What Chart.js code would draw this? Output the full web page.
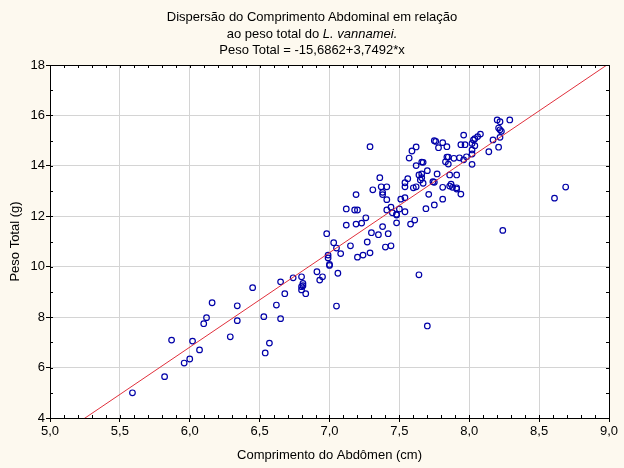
<!DOCTYPE html>
<html>
<head>
<meta charset="utf-8">
<title>Dispersão do Comprimento Abdominal</title>
<script src="https://cdn.jsdelivr.net/npm/chart.js"></script>
<style>
    body { margin: 0; background: #fdf9ef; font-family: "Liberation Sans", Arial, sans-serif; }
    .wrap { position: relative; width: 624px; height: 468px; }
    .title { position: absolute; top: 9px; left: 0; width: 624px; text-align: center; font-size: 13px; line-height: 16.5px; color: #000; }
    canvas { position: absolute; top: 0; left: 0; }
</style>
</head>
<body>
<div class="wrap">
    <canvas id="chart" width="624" height="468"></canvas>
    <div class="title">
        Dispersão do Comprimento Abdominal em relação<br>
        ao peso total do <i>L. vannamei.</i><br>
        Peso Total = -15,6862+3,7492*x
    </div>
</div>

<script>
    // comprimento do abdômen (cm)
    const comprimento = [
        5.59, 5.82, 5.87, 5.96, 6.00, 6.02, 6.07, 6.10, 6.12, 6.16,
        6.29, 6.34, 6.34, 6.45, 6.53, 6.54, 6.57, 6.62, 6.65, 6.65,
        6.68, 6.74, 6.80, 6.81, 6.81, 6.80, 6.80, 6.83, 6.91, 6.93,
        6.95, 6.98, 6.99, 6.99, 7.00, 7.00, 7.03, 7.05, 7.08, 7.06,
        7.05, 7.12, 7.18, 7.20, 7.12, 7.19, 7.23, 7.26, 7.15, 7.30,
        7.27, 7.20, 7.24, 7.29, 7.35, 7.29, 7.36, 7.31, 7.37, 7.41,
        7.38, 7.38, 7.41, 7.19, 7.38, 7.42, 7.40, 7.44, 7.41, 7.44,
        7.48, 7.48, 7.51, 7.54, 7.50, 7.54, 7.54, 7.54, 7.56, 7.57,
        7.59, 7.62, 7.45, 7.48, 7.58, 7.61, 7.60, 7.62, 7.62, 7.64,
        7.66, 7.66, 7.66, 7.67, 7.69, 7.70, 7.71, 7.67, 7.65, 7.74,
        7.75, 7.75, 7.76, 7.75, 7.77, 7.78, 7.81, 7.81, 7.81, 7.83,
        7.84, 7.84, 7.85, 7.85, 7.86, 7.86, 7.87, 7.88, 7.89, 7.91,
        7.91, 7.91, 7.93, 7.94, 7.94, 7.96, 7.97, 7.96, 7.98, 8.02,
        8.02, 8.02, 8.03, 8.04, 8.06, 8.08, 8.02, 8.04, 8.14, 8.17,
        8.20, 8.22, 8.21, 8.22, 8.23, 8.22, 8.21, 8.29, 8.24, 7.64,
        7.70, 8.61, 8.69
    ];
    // peso total (g)
    const peso = [
        5.00, 5.64, 7.09, 6.18, 6.34, 7.05, 6.70, 7.74, 7.98, 8.57,
        7.22, 8.45, 7.86, 9.17, 8.02, 6.58, 6.97, 8.48, 7.94, 9.40,
        8.93, 9.56, 9.60, 9.34, 9.25, 9.21, 9.08, 8.93, 9.80, 9.47,
        9.60, 11.31, 10.46, 10.35, 10.09, 10.05, 10.95, 10.74, 10.52, 9.74,
        8.44, 12.29, 12.25, 12.25, 11.65, 11.69, 11.73, 11.94, 10.83, 11.35,
        10.98, 10.38, 10.46, 10.55, 11.27, 14.76, 13.53, 13.05, 13.17, 13.17,
        12.95, 12.86, 12.66, 12.86, 11.59, 11.31, 10.78, 10.83, 12.25, 12.36,
        12.08, 11.74, 12.68, 12.74, 12.29, 12.18, 13.17, 13.33, 13.49, 14.31,
        14.59, 14.75, 12.14, 12.05, 11.69, 11.85, 13.13, 13.17, 14.01, 13.64,
        13.53, 13.68, 14.15, 14.14, 12.30, 13.81, 12.87, 13.31, 13.44, 13.37,
        13.35, 15.00, 14.97, 12.45, 13.68, 14.72, 12.68, 13.15, 14.92, 14.16,
        14.76, 14.35, 14.35, 14.07, 13.64, 13.20, 13.27, 13.15, 14.30, 13.64,
        13.13, 13.08, 14.32, 12.88, 14.84, 15.22, 14.84, 14.24, 14.36, 14.89,
        14.63, 14.47, 15.03, 15.08, 15.16, 15.26, 14.06, 14.80, 14.56, 15.03,
        15.82, 15.75, 15.50, 15.43, 15.37, 15.13, 14.74, 15.82, 11.44, 9.68,
        7.65, 12.72, 13.16
    ];

    // regression: Peso Total = -15,6862 + 3,7492*x
    const intercepto = -15.6862;
    const inclinacao = 3.7492;

    const xMin = 5, xMax = 9, xStep = 0.5;
    const yMin = 4, yMax = 18, yStep = 2;

    const pontos = comprimento.map((c, i) => ({ x: c, y: peso[i] }));
    const reta = [xMin, xMax].map(x => ({ x: x, y: intercepto + inclinacao * x }));

    const fonte = { family: '"Liberation Sans", Arial, sans-serif', size: 13 };

    // frame + small inside ticks
    const moldura = {
        id: 'moldura',
        afterDraw(chart) {
            const { ctx, chartArea: a, scales } = chart;
            ctx.save();
            ctx.strokeStyle = '#000';
            ctx.lineWidth = 1;
            ctx.beginPath();
            for (let v = xMin + 0.1; v < xMax - 0.05; v += 0.1) {
                const px = Math.round(scales.x.getPixelForValue(v)) + 0.5;
                ctx.moveTo(px, a.bottom); ctx.lineTo(px, a.bottom - 3);
                ctx.moveTo(px, a.top); ctx.lineTo(px, a.top + 3);
            }
            for (let v = yMin + 1; v < yMax; v += 1) {
                const py = Math.round(scales.y.getPixelForValue(v)) + 0.5;
                ctx.moveTo(a.left, py); ctx.lineTo(a.left + 3, py);
                ctx.moveTo(a.right, py); ctx.lineTo(a.right - 3, py);
            }
            ctx.stroke();
            ctx.strokeRect(Math.round(a.left) + 0.5, Math.round(a.top) + 0.5,
                Math.round(a.right - a.left), Math.round(a.bottom - a.top));
            ctx.restore();
        }
    };

    const areaBranca = {
        id: 'areaBranca',
        beforeDraw(chart) {
            const { ctx, chartArea: a } = chart;
            ctx.save();
            ctx.fillStyle = '#ffffff';
            ctx.fillRect(a.left, a.top, a.right - a.left, a.bottom - a.top);
            ctx.restore();
        }
    };

    new Chart(document.getElementById('chart'), {
        type: 'scatter',
        data: {
            datasets: [
                {
                    type: 'line',
                    data: reta,
                    borderColor: '#e0303c',
                    borderWidth: 1,
                    pointRadius: 0,
                    fill: false,
                    order: 0
                },
                {
                    data: pontos,
                    borderColor: '#0000a8',
                    backgroundColor: 'rgba(0,0,0,0)',
                    borderWidth: 1.2,
                    pointRadius: 2.8,
                    order: 1
                }
            ]
        },
        options: {
            responsive: false,
            animation: false,
            devicePixelRatio: 1,
            layout: { padding: { left: 0, top: 65, right: 15, bottom: 0 } },
            plugins: { legend: { display: false }, tooltip: { enabled: false } },
            scales: {
                x: {
                    type: 'linear',
                    min: xMin, max: xMax,
                    afterFit(s) { s.height = 50; },
                    ticks: {
                        stepSize: xStep,
                        padding: 2,
                        color: '#000',
                        font: fonte,
                        maxRotation: 0,
                        callback: v => v.toFixed(1).replace('.', ',')
                    },
                    grid: { color: '#d4d4d4', tickColor: '#000', tickLength: 4 },
                    border: { display: true, color: '#000' },
                    title: {
                        display: true,
                        text: 'Comprimento do Abdômen (cm)',
                        color: '#000',
                        font: fonte,
                        padding: { top: 0, bottom: 5 }
                    }
                },
                y: {
                    type: 'linear',
                    min: yMin, max: yMax,
                    afterFit(s) { s.width = 50; },
                    ticks: {
                        stepSize: yStep,
                        padding: 1,
                        color: '#000',
                        font: fonte
                    },
                    grid: { color: '#d4d4d4', tickColor: '#000', tickLength: 4 },
                    border: { display: true, color: '#000' },
                    title: {
                        display: true,
                        text: 'Peso Total (g)',
                        color: '#000',
                        font: fonte,
                        padding: { top: 8, bottom: 0 }
                    }
                }
            }
        },
        plugins: [areaBranca, moldura]
    });
</script>
</body>
</html>
